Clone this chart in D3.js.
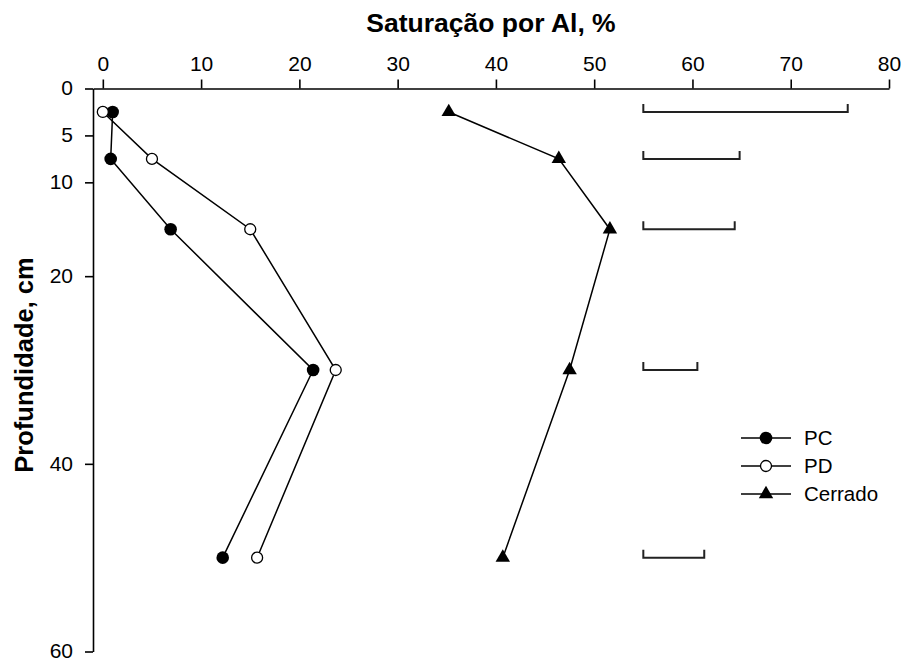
<!DOCTYPE html>
<html>
<head>
<meta charset="utf-8">
<script src="https://cdn.jsdelivr.net/npm/d3@7"></script>
<style>
    body { margin: 0; background: #fff; }
    svg { display: block; }
    text { font-family: Arial, "Liberation Sans", sans-serif; fill: #000; }
</style>
</head>
<body>
<svg id="viz" width="904" height="661"></svg>
<script>
// profundidade (cm) das amostras
var depths = [2.5, 7.5, 15, 30, 50];
// saturação por Al (%)
var pcValues = [1.0, 0.8, 6.9, 21.4, 12.2];
var pdValues = [0.0, 5.0, 15.0, 23.7, 15.7];
var cerradoValues = [35.2, 46.4, 51.6, 47.5, 40.7];
// barras de DMS por profundidade
var dmsStart = 55;
var dmsValues = [20.8, 9.8, 9.3, 5.5, 6.2];

var xTicks = [0, 10, 20, 30, 40, 50, 60, 70, 80];
var yTicks = [0, 5, 10, 20, 40, 60];
var seriesNames = ['PC', 'PD', 'Cerrado'];

var svg = d3.select('#viz');

var x = d3.scaleLinear().domain([-1, 80]).range([93, 889]);
var y = d3.scaleLinear().domain([0, 60]).range([88.5, 651.5]);

var series = [
    { name: seriesNames[0], values: pcValues, symbol: 'fill' },
    { name: seriesNames[1], values: pdValues, symbol: 'open' },
    { name: seriesNames[2], values: cerradoValues, symbol: 'tri' }
];

// eixos
var xAxis = svg.append('g')
    .attr('transform', 'translate(0,' + y(0) + ')')
    .call(d3.axisTop(x).tickValues(xTicks).tickSizeOuter(0).tickSizeInner(9).tickPadding(9));

var yAxis = svg.append('g')
    .attr('transform', 'translate(' + x(-1) + ',0)')
    .call(d3.axisLeft(y).tickValues(yTicks).tickSizeOuter(0).tickSizeInner(8).tickPadding(12));

[xAxis, yAxis].forEach(function (a) {
    a.selectAll('path, line').attr('stroke', '#000').attr('stroke-width', 1.6);
    a.selectAll('text').style('font-size', '21px').attr('fill', '#000');
});
yAxis.selectAll('text').attr('dy', '0.3em');

// títulos
svg.append('text')
    .attr('x', (x(-1) + x(80)) / 2)
    .attr('y', 32)
    .attr('text-anchor', 'middle')
    .style('font-size', '26.5px')
    .style('font-weight', 'bold')
    .text('Saturação por Al, %');

svg.append('text')
    .attr('transform', 'translate(33,' + ((y(0) + y(60)) / 2 - 5) + ') rotate(-90)')
    .attr('text-anchor', 'middle')
    .style('font-size', '25.5px')
    .style('font-weight', 'bold')
    .text('Profundidade, cm');

// barras DMS
svg.append('g').attr('class', 'dms')
    .selectAll('path')
    .data(dmsValues)
    .enter()
    .append('path')
    .attr('fill', 'none')
    .attr('stroke', '#222')
    .attr('stroke-width', 2)
    .attr('d', function (d, i) {
        var yy = y(depths[i]);
        var x0 = x(dmsStart), x1 = x(dmsStart + d);
        return 'M' + x0 + ',' + (yy - 8) + 'V' + yy + 'H' + x1 + 'V' + (yy - 8);
    });

var line = d3.line()
    .x(function (d) { return x(d.v); })
    .y(function (d) { return y(d.depth); });

function drawMarker(g, kind) {
    if (kind === 'fill') {
        g.append('circle').attr('r', 6.3).attr('fill', '#000');
    } else if (kind === 'open') {
        g.append('circle').attr('r', 5.5).attr('fill', '#fff').attr('stroke', '#000').attr('stroke-width', 1.3);
    } else {
        g.append('path').attr('d', d3.symbol().type(d3.symbolTriangle).size(90)()).attr('fill', '#000');
    }
}

series.forEach(function (s) {
    var pts = s.values.map(function (v, i) { return { v: v, depth: depths[i] }; });
    svg.append('path')
        .datum(pts)
        .attr('fill', 'none')
        .attr('stroke', '#000')
        .attr('stroke-width', 1.5)
        .attr('d', line);
    svg.append('g').selectAll('g')
        .data(pts)
        .enter()
        .append('g')
        .attr('transform', function (d) { return 'translate(' + x(d.v) + ',' + y(d.depth) + ')'; })
        .each(function () { drawMarker(d3.select(this), s.symbol); });
});

// legenda
var legend = svg.append('g').attr('transform', 'translate(741,438)');
var legendRow = legend.selectAll('g')
    .data(series)
    .enter()
    .append('g')
    .attr('transform', function (d, i) { return 'translate(0,' + (i * 28) + ')'; });

legendRow.append('line')
    .attr('x1', 0).attr('x2', 50)
    .attr('stroke', '#000').attr('stroke-width', 1.5);
legendRow.append('g')
    .attr('transform', 'translate(25,0)')
    .each(function (d) { drawMarker(d3.select(this), d.symbol); });
legendRow.append('text')
    .attr('x', 63)
    .attr('dy', '0.35em')
    .style('font-size', '20.5px')
    .text(function (d) { return d.name; });
</script>
</body>
</html>
